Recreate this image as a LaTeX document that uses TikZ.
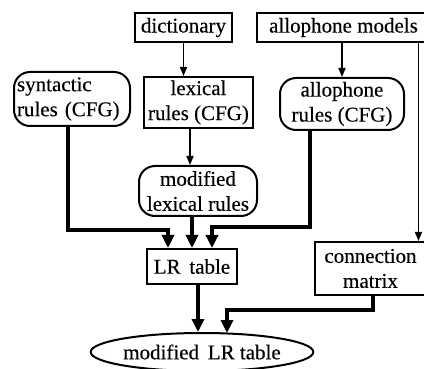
\documentclass[tikz,border=0pt]{standalone}
\usepackage{fontspec}
\setmainfont{Liberation Serif}[FakeBold=0.3]
\usetikzlibrary{shapes.geometric,arrows.meta,calc}

\begin{document}
\begin{tikzpicture}[x=1pt,y=-1pt,
  box/.style={draw,line width=2pt,inner sep=0pt,align=center,
    font=\fontsize{21}{25}\selectfont},
  rbox/.style={box,rounded corners=16pt},
  feed/.style={line width=1.6pt,-{Triangle[width=7pt,length=9pt]}},
  flow/.style={line width=4pt,-{Triangle[width=12pt,length=13pt]}}]

\useasboundingbox (0,0) rectangle (424,369);
\clip (0,0) rectangle (424,369);

% sources
\node[box,minimum width=97pt,minimum height=29pt] (dict) at (183.5,27.5) {dictionary};
\node[box,minimum width=173pt,minimum height=29pt] (allomod) at (343.5,27.5) {allophone models};

% grammars
\node[rbox,align=left,minimum width=116pt,minimum height=54pt,text width=110pt] (syn) at (72,99) {syntactic\\rules (CFG)};
\node[box,minimum width=109pt,minimum height=51pt] (lex) at (198.5,102.5) {lexical\\rules (CFG)};
\node[rbox,minimum width=124pt,minimum height=52pt] (allorules) at (342,104) {allophone\\rules (CFG)};

\node[rbox,minimum width=118pt,minimum height=50pt] (modlex) at (198,191) {modified\\lexical rules};

% tables
\node[box,minimum width=90pt,minimum height=35pt] (lr) at (192,266.5) {LR\, table};
\node[box,minimum width=111pt,minimum height=53pt] (conn) at (370.5,268.5) {connection\\matrix};
\node[box,ellipse,minimum width=190pt,minimum height=38pt] (mlr) at (202,352) {\raisebox{-4pt}{modified\, LR table}};

% thin arrows
\draw[feed] (dict.south) -- (dict.south |- lex.north);
\draw[feed] (allorules.north |- allomod.south) -- (allorules.north);
\draw[feed] ([xshift=-8.5pt]conn.north east |- allomod.south) -- ([xshift=-8.5pt]conn.north east);
\draw[feed] ([xshift=-8.5pt]lex.south) -- ([xshift=-8.5pt]lex.south |- modlex.north);

% thick arrows into the LR table
\coordinate (j1) at (168,230);
\coordinate (j2) at (212,227);
\draw[flow] ([xshift=-4pt]syn.south) |- (j1) -- (j1 |- lr.north);
\draw[flow] (modlex.south -| lr.north) -- (lr.north);
\draw[flow] ([xshift=-32pt]allorules.south) |- (j2) -- (j2 |- lr.north);

% thick arrows into the modified LR table
\coordinate (j3) at (227,310);
\draw[flow] ([xshift=6pt]lr.south) -- ([xshift=6pt]lr.south |- mlr.north);
\draw[flow] ([xshift=2.5pt]conn.south) |- (j3) -- ($(j3 |- mlr.north)+(0,1)$);

\end{tikzpicture}
\end{document}
